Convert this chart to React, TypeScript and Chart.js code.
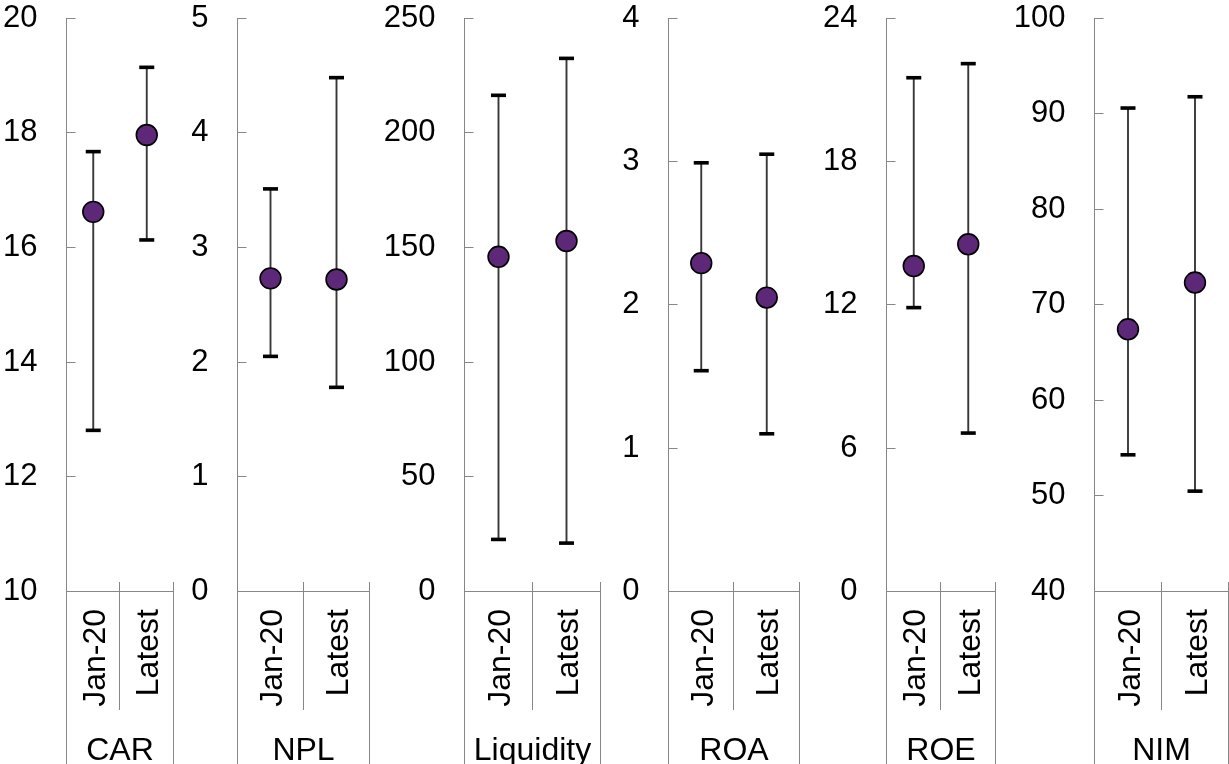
import React, { useEffect, useRef } from 'react';
import { Chart, registerables } from 'chart.js';

Chart.register(...registerables);

// Categories
const periods = ['Jan-20', 'Latest'];
const indicators = ['CAR', 'NPL', 'Liquidity', 'ROA', 'ROE', 'NIM'];

// Median (dot) and range (whiskers) per indicator, ordered [Jan-20, Latest]
const carValues = [16.62, 17.96];
const carLow = [12.81, 16.13];
const carHigh = [17.67, 19.14];

const nplValues = [2.73, 2.72];
const nplLow = [2.05, 1.78];
const nplHigh = [3.51, 4.48];

const liquidityValues = [145.9, 152.8];
const liquidityLow = [22.7, 21.1];
const liquidityHigh = [216.3, 232.4];

const roaValues = [2.29, 2.05];
const roaLow = [1.54, 1.1];
const roaHigh = [2.99, 3.05];

const roeValues = [13.62, 14.53];
const roeLow = [11.88, 6.63];
const roeHigh = [21.5, 22.09];

const nimValues = [67.43, 72.32];
const nimLow = [54.3, 50.5];
const nimHigh = [90.58, 91.76];

// Value axis ticks per indicator
const axisMin = [10, 0, 0, 0, 0, 40];
const axisMax = [20, 5, 250, 4, 24, 100];
const axisStep = [2, 1, 50, 1, 6, 10];

const centres = [carValues, nplValues, liquidityValues, roaValues, roeValues, nimValues];
const lows = [carLow, nplLow, liquidityLow, roaLow, roeLow, nimLow];
const highs = [carHigh, nplHigh, liquidityHigh, roaHigh, roeHigh, nimHigh];

// Panel geometry (pixel columns)
const PAGE_W = 1229;
const PAGE_H = 764;
const panelStart = [0, 174, 370, 601, 800, 996];
const panelEnd = [174, 370, 601, 800, 996, 1229];
const axisCol = [66, 237, 464, 668, 886, 1094];
const frameRightCol = [173, 369, 600, 799, 995, 1228];
const PLOT_TOP = 18;
const PLOT_BOTTOM = 591.5;

const FONT = "'Liberation Sans', Arial, Helvetica, sans-serif";
const TICK_SIZE = 31;
const LABEL_SIZE = 32;
const AXIS_GREY = '#878787';
const WHISKER = '#383838';
const DOT = '#5d2878';

function makeFramePlugin(i: number) {
  return {
    id: 'panelFrame' + i,
    beforeDatasetsDraw(chart: any) {
      const ctx: CanvasRenderingContext2D = chart.ctx;
      const xs = chart.scales.x;
      const ys = chart.scales.y;
      const area = chart.chartArea;
      const L = area.left;
      const R = area.right;
      const B = area.bottom;

      ctx.save();
      // Axis frame
      ctx.strokeStyle = AXIS_GREY;
      ctx.lineWidth = 1;
      ctx.beginPath();
      ctx.moveTo(L, area.top);
      ctx.lineTo(L, PAGE_H);
      ctx.moveTo(L, B);
      ctx.lineTo(R, B);
      // inward tick marks
      ys.ticks.forEach((t: any) => {
        const y = Math.round(ys.getPixelForValue(t.value) - 0.5) + 0.5;
        ctx.moveTo(L, y);
        ctx.lineTo(L + 9, y);
      });
      // category separators
      const mid = (xs.getPixelForValue(0) + xs.getPixelForValue(1)) / 2;
      const sx = Math.floor(mid - 0.5) + 0.5;
      ctx.moveTo(sx, 582);
      ctx.lineTo(sx, 710);
      ctx.moveTo(R, 582);
      ctx.lineTo(R, PAGE_H);
      ctx.stroke();

      // Whiskers
      for (let k = 0; k < periods.length; k++) {
        const x = xs.getPixelForValue(k);
        const yLo = ys.getPixelForValue(lows[i][k]);
        const yHi = ys.getPixelForValue(highs[i][k]);
        ctx.strokeStyle = WHISKER;
        ctx.lineWidth = 1.9;
        ctx.beginPath();
        ctx.moveTo(x, yLo);
        ctx.lineTo(x, yHi);
        ctx.stroke();
        ctx.fillStyle = '#000';
        ctx.fillRect(x - 7.5, yLo - 1.8, 15, 3.6);
        ctx.fillRect(x - 7.5, yHi - 1.8, 15, 3.6);
      }

      // Category labels (rotated) and group label
      ctx.fillStyle = '#000';
      ctx.font = `${LABEL_SIZE}px ${FONT}`;
      for (let k = 0; k < periods.length; k++) {
        const x = xs.getPixelForValue(k);
        ctx.save();
        ctx.translate(x + 11.5, 609);
        ctx.rotate(-Math.PI / 2);
        ctx.textAlign = 'right';
        ctx.textBaseline = 'alphabetic';
        ctx.fillText(periods[k], 0, 0);
        ctx.restore();
      }
      ctx.textAlign = 'center';
      ctx.textBaseline = 'alphabetic';
      ctx.fillText(indicators[i], (L + R) / 2, 759.5);
      ctx.restore();
    },
  };
}

function Panel({ i }: { i: number }) {
  const ref = useRef<HTMLCanvasElement>(null);
  const left = panelStart[i];
  const width = panelEnd[i] - left;

  useEffect(() => {
    const canvas = ref.current;
    if (!canvas) return;
    const yWidth = axisCol[i] + 0.5 - left;
    const padRight = panelEnd[i] - (frameRightCol[i] + 0.5);
    const chart = new Chart(canvas, {
      type: 'line',
      data: {
        labels: periods,
        datasets: [
          {
            data: centres[i],
            showLine: false,
            pointRadius: 10.4,
            pointHoverRadius: 10.4,
            pointBackgroundColor: DOT,
            pointBorderColor: '#000',
            pointBorderWidth: 1.6,
          },
        ],
      },
      options: {
        responsive: false,
        animation: false,
        events: [],
        layout: {
          autoPadding: false,
          padding: { top: PLOT_TOP, bottom: PAGE_H - PLOT_BOTTOM, left: 0, right: padRight },
        },
        plugins: {
          legend: { display: false },
          tooltip: { enabled: false },
        },
        scales: {
          x: { display: false, offset: true },
          y: {
            min: axisMin[i],
            max: axisMax[i],
            ticks: {
              stepSize: axisStep[i],
              color: '#000',
              padding: 29,
              font: { family: FONT, size: TICK_SIZE, lineHeight: 1.1 },
            },
            grid: { display: false, drawTicks: false },
            border: { display: false },
            afterFit: (scale: any) => {
              scale.width = yWidth;
              scale.paddingTop = 0;
              scale.paddingBottom = 0;
            },
          },
        },
      } as any,
      plugins: [makeFramePlugin(i)],
    });
    return () => chart.destroy();
  }, [i, left]);

  return (
    <canvas
      ref={ref}
      width={width}
      height={PAGE_H}
      style={{ position: 'absolute', left, top: 0, width, height: PAGE_H }}
    />
  );
}

export default function App() {
  return (
    <div
      style={{
        position: 'fixed',
        left: 0,
        top: 0,
        width: PAGE_W,
        height: PAGE_H,
        background: '#fff',
        overflow: 'hidden',
      }}
    >
      {indicators.map((_, i) => (
        <Panel key={i} i={i} />
      ))}
    </div>
  );
}
